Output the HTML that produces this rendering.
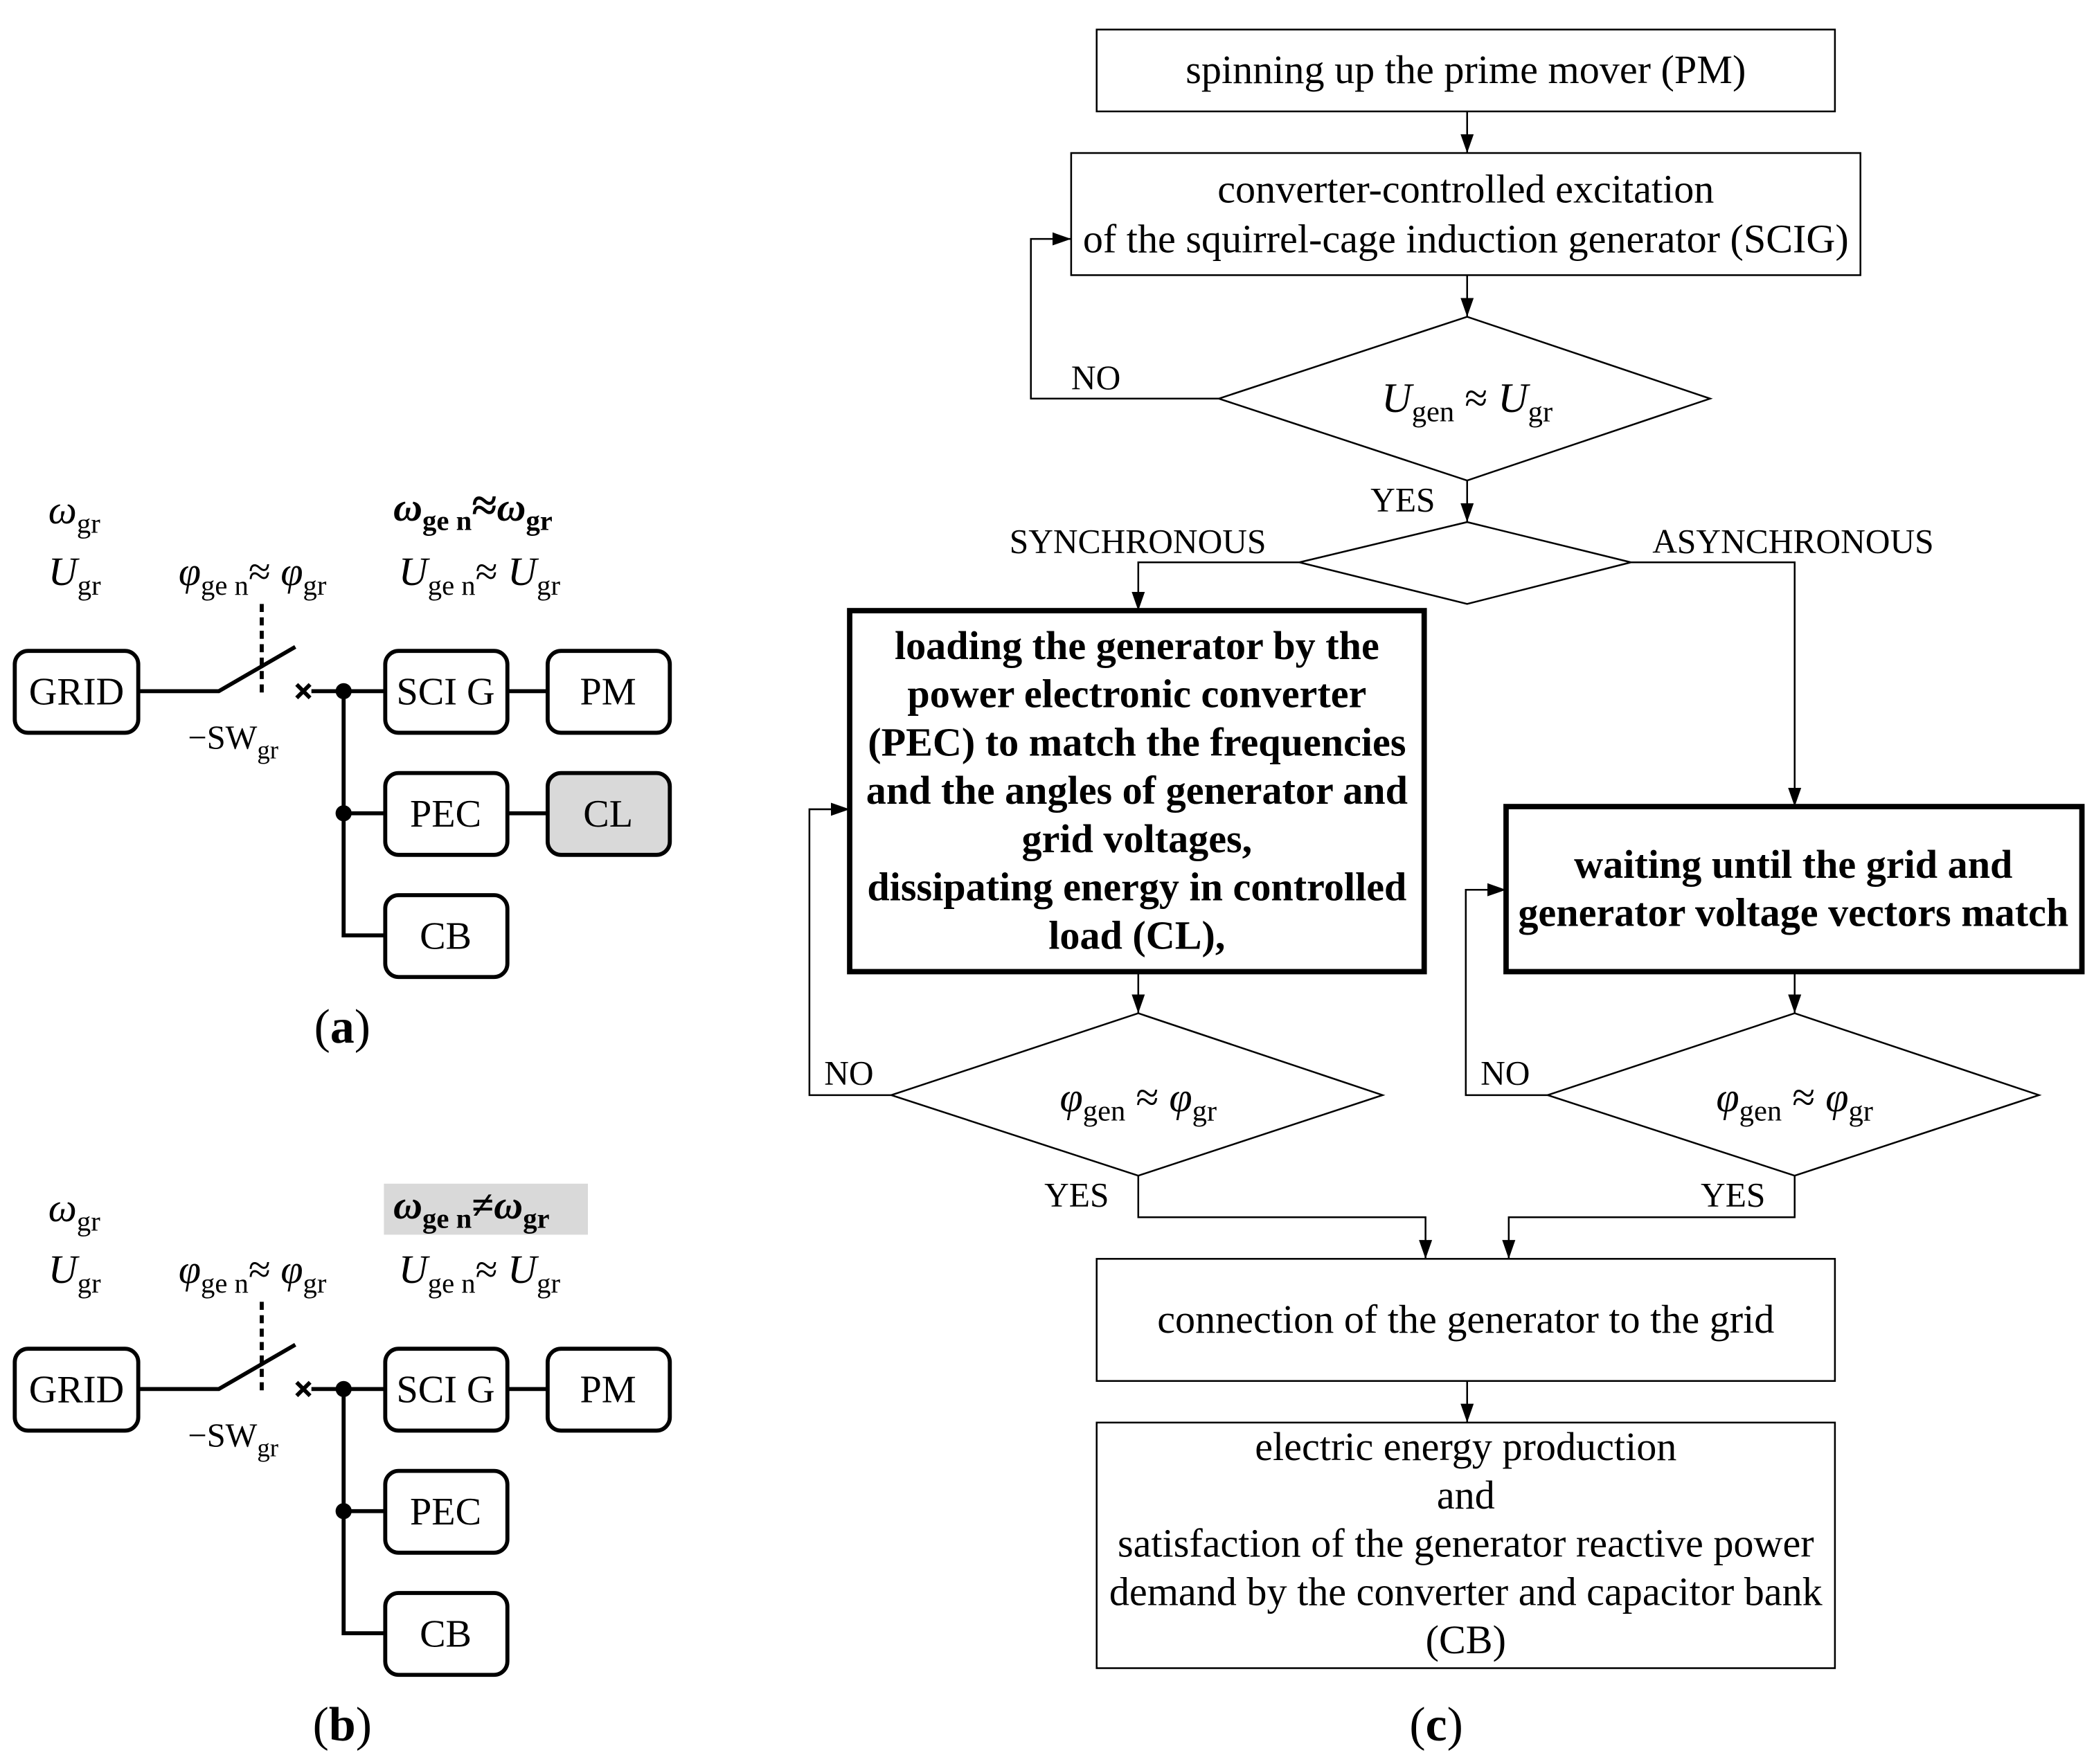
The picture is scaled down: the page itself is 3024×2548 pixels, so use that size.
<!DOCTYPE html>
<html><head><meta charset="utf-8"><style>
html,body{margin:0;padding:0;background:#fff;}
svg{display:block;}
text{font-family:"Liberation Serif",serif;fill:#000;}
</style></head><body>
<svg width="3024" height="2548" viewBox="0 0 1560 1314.4" xmlns="http://www.w3.org/2000/svg">
<defs>
<marker id="ar" viewBox="0 0 10 10" refX="10" refY="5" markerWidth="14" markerHeight="14" markerUnits="userSpaceOnUse" orient="auto"><path d="M0,1.5 L10,5 L0,8.5 z" fill="#000"/></marker>
</defs>
<rect width="1560" height="1314.4" fill="#fff"/>

<!-- ===== Flowchart (c) ===== -->
<g fill="none" stroke="#000" stroke-width="1.3">
<rect x="817" y="22" width="550" height="61"/>
<rect x="798" y="114" width="588" height="91"/>
<polygon points="908,297 1093,236 1274,297 1093,358"/>
<polygon points="968,419 1093,389 1215,419 1093,450"/>
<polygon points="664,816 848,755 1030,816 848,876"/>
<polygon points="1153,816 1337,755 1519,816 1337,876"/>
<rect x="817" y="938" width="550" height="91"/>
<rect x="817" y="1060" width="550" height="183"/>
<line x1="1093" y1="83" x2="1093" y2="114" marker-end="url(#ar)"/>
<line x1="1093" y1="205" x2="1093" y2="236" marker-end="url(#ar)"/>
<polyline points="908,297 768,297 768,178 798,178" marker-end="url(#ar)"/>
<line x1="1093" y1="358" x2="1093" y2="389" marker-end="url(#ar)"/>
<polyline points="968,419 848,419 848,455" marker-end="url(#ar)"/>
<polyline points="1215,419 1337,419 1337,601" marker-end="url(#ar)"/>
<line x1="848" y1="724" x2="848" y2="755" marker-end="url(#ar)"/>
<line x1="1337" y1="724" x2="1337" y2="755" marker-end="url(#ar)"/>
<polyline points="664,816 603,816 603,603 633,603" marker-end="url(#ar)"/>
<polyline points="1153,816 1092,816 1092,663 1122,663" marker-end="url(#ar)"/>
<polyline points="848,876 848,907 1062,907 1062,938" marker-end="url(#ar)"/>
<polyline points="1337,876 1337,907 1124,907 1124,938" marker-end="url(#ar)"/>
<line x1="1093" y1="1029" x2="1093" y2="1060" marker-end="url(#ar)"/>
</g>
<rect x="633" y="455" width="428" height="269" fill="none" stroke="#000" stroke-width="4"/>
<rect x="1122" y="601" width="429" height="123" fill="none" stroke="#000" stroke-width="4"/>

<g font-size="30" text-anchor="middle">
<text x="1092" y="62">spinning up the prime mover (PM)</text>
<text x="1092" y="151">converter-controlled excitation</text>
<text x="1092" y="188">of the squirrel-cage induction generator (SCIG)</text>
<text x="1092" y="993">connection of the generator to the grid</text>
<text x="1092" y="1088">electric energy production</text>
<text x="1092" y="1124">and</text>
<text x="1092" y="1160">satisfaction of the generator  reactive power</text>
<text x="1092" y="1196">demand by the converter and capacitor bank</text>
<text x="1092" y="1232">(CB)</text>
</g>
<g font-size="30" text-anchor="middle" font-weight="bold">
<text x="847" y="491">loading the generator by the</text>
<text x="847" y="527">power electronic converter</text>
<text x="847" y="563">(PEC) to match the frequencies</text>
<text x="847" y="599">and the angles of generator and</text>
<text x="847" y="635">grid voltages,</text>
<text x="847" y="671">dissipating energy in controlled</text>
<text x="847" y="707">load (CL),</text>
<text x="1336" y="654">waiting until the grid and</text>
<text x="1336" y="690">generator voltage vectors match</text>
</g>
<g font-size="25.5">
<text x="798" y="290">NO</text>
<text x="1021" y="381">YES</text>
<text x="752" y="412">SYNCHRONOUS</text>
<text x="1231" y="412">ASYNCHRONOUS</text>
<text x="614" y="808">NO</text>
<text x="1103" y="808">NO</text>
<text x="778" y="899">YES</text>
<text x="1267" y="899">YES</text>
</g>
<text x="1093" y="307" font-size="31" text-anchor="middle"><tspan font-style="italic">U</tspan><tspan font-size="22" dy="7">gen</tspan><tspan dy="-7"> ≈ </tspan><tspan font-style="italic">U</tspan><tspan font-size="22" dy="7">gr</tspan></text>
<text x="848" y="828" font-size="31" text-anchor="middle"><tspan font-style="italic">φ</tspan><tspan font-size="22" dy="7">gen</tspan><tspan dy="-7"> ≈ </tspan><tspan font-style="italic">φ</tspan><tspan font-size="22" dy="7">gr</tspan></text>
<text x="1337" y="828" font-size="31" text-anchor="middle"><tspan font-style="italic">φ</tspan><tspan font-size="22" dy="7">gen</tspan><tspan dy="-7"> ≈ </tspan><tspan font-style="italic">φ</tspan><tspan font-size="22" dy="7">gr</tspan></text>
<text x="1070" y="1297" font-size="36" text-anchor="middle">(<tspan font-weight="bold">c</tspan>)</text>

<!-- ===== Panel (a) ===== -->
<g>
<g fill="none" stroke="#000" stroke-width="3">
<rect x="11" y="485" width="92" height="61" rx="10"/>
<rect x="287" y="485" width="91" height="61" rx="10"/>
<rect x="408" y="485" width="91" height="61" rx="10"/>
<rect x="287" y="576" width="91" height="61" rx="10"/>
<rect x="287" y="667" width="91" height="61" rx="10"/>
<polyline points="103,515 163,515 220,482"/>
<line x1="232" y1="515" x2="287" y2="515"/>
<polyline points="256,515 256,697 287,697"/>
<line x1="256" y1="606" x2="287" y2="606"/>
<line x1="378" y1="515" x2="408" y2="515"/>
<line x1="195" y1="450" x2="195" y2="520" stroke-dasharray="6,4"/>
<line x1="221" y1="510" x2="231" y2="520"/>
<line x1="231" y1="510" x2="221" y2="520"/>
</g>
<circle cx="256" cy="515" r="6"/>
<circle cx="256" cy="606" r="6"/>
<g font-size="29" text-anchor="middle">
<text x="57" y="525">GRID</text>
<text x="332" y="525">SCI G</text>
<text x="453" y="525">PM</text>
<text x="332" y="616">PEC</text>
<text x="332" y="707">CB</text>
</g>
<text x="140" y="558" font-size="25">−SW<tspan font-size="19" dy="7">gr</tspan></text>
<text x="36" y="390" font-size="30"><tspan font-style="italic">ω</tspan><tspan font-size="21" dy="7">gr</tspan></text>
<text x="36" y="436" font-size="30"><tspan font-style="italic">U</tspan><tspan font-size="21" dy="7">gr</tspan></text>
<text x="133" y="436" font-size="30"><tspan font-style="italic">φ</tspan><tspan font-size="21" dy="7">ge n</tspan><tspan dy="-7">≈ </tspan><tspan font-style="italic">φ</tspan><tspan font-size="21" dy="7">gr</tspan></text>
<text x="297" y="436" font-size="30"><tspan font-style="italic">U</tspan><tspan font-size="21" dy="7">ge n</tspan><tspan dy="-7">≈ </tspan><tspan font-style="italic">U</tspan><tspan font-size="21" dy="7">gr</tspan></text>
</g>
<rect x="408" y="576" width="91" height="61" rx="10" fill="#d9d9d9" stroke="#000" stroke-width="3"/>
<line x1="378" y1="606" x2="408" y2="606" stroke="#000" stroke-width="3"/>
<text x="453" y="616" font-size="29" text-anchor="middle">CL</text>
<text x="293" y="388" font-size="30" font-weight="bold"><tspan font-style="italic">ω</tspan><tspan font-size="21" dy="7">ge n</tspan><tspan dy="-7" font-size="34">≈</tspan><tspan font-style="italic">ω</tspan><tspan font-size="21" dy="7">gr</tspan></text>
<text x="255" y="777" font-size="36" text-anchor="middle">(<tspan font-weight="bold">a</tspan>)</text>

<!-- ===== Panel (b) ===== -->
<g transform="translate(0,520)">
<g fill="none" stroke="#000" stroke-width="3">
<rect x="11" y="485" width="92" height="61" rx="10"/>
<rect x="287" y="485" width="91" height="61" rx="10"/>
<rect x="408" y="485" width="91" height="61" rx="10"/>
<rect x="287" y="576" width="91" height="61" rx="10"/>
<rect x="287" y="667" width="91" height="61" rx="10"/>
<polyline points="103,515 163,515 220,482"/>
<line x1="232" y1="515" x2="287" y2="515"/>
<polyline points="256,515 256,697 287,697"/>
<line x1="256" y1="606" x2="287" y2="606"/>
<line x1="378" y1="515" x2="408" y2="515"/>
<line x1="195" y1="450" x2="195" y2="520" stroke-dasharray="6,4"/>
<line x1="221" y1="510" x2="231" y2="520"/>
<line x1="231" y1="510" x2="221" y2="520"/>
</g>
<circle cx="256" cy="515" r="6"/>
<circle cx="256" cy="606" r="6"/>
<g font-size="29" text-anchor="middle">
<text x="57" y="525">GRID</text>
<text x="332" y="525">SCI G</text>
<text x="453" y="525">PM</text>
<text x="332" y="616">PEC</text>
<text x="332" y="707">CB</text>
</g>
<text x="140" y="558" font-size="25">−SW<tspan font-size="19" dy="7">gr</tspan></text>
<text x="36" y="390" font-size="30"><tspan font-style="italic">ω</tspan><tspan font-size="21" dy="7">gr</tspan></text>
<text x="36" y="436" font-size="30"><tspan font-style="italic">U</tspan><tspan font-size="21" dy="7">gr</tspan></text>
<text x="133" y="436" font-size="30"><tspan font-style="italic">φ</tspan><tspan font-size="21" dy="7">ge n</tspan><tspan dy="-7">≈ </tspan><tspan font-style="italic">φ</tspan><tspan font-size="21" dy="7">gr</tspan></text>
<text x="297" y="436" font-size="30"><tspan font-style="italic">U</tspan><tspan font-size="21" dy="7">ge n</tspan><tspan dy="-7">≈ </tspan><tspan font-style="italic">U</tspan><tspan font-size="21" dy="7">gr</tspan></text>
<rect x="286" y="362" width="152" height="38" fill="#d9d9d9"/>
<text x="293" y="388" font-size="30" font-weight="bold"><tspan font-style="italic">ω</tspan><tspan font-size="21" dy="7">ge n</tspan><tspan dy="-7">≠</tspan><tspan font-style="italic">ω</tspan><tspan font-size="21" dy="7">gr</tspan></text>
</g>
<text x="255" y="1297" font-size="36" text-anchor="middle">(<tspan font-weight="bold">b</tspan>)</text>
</svg>
</body></html>
